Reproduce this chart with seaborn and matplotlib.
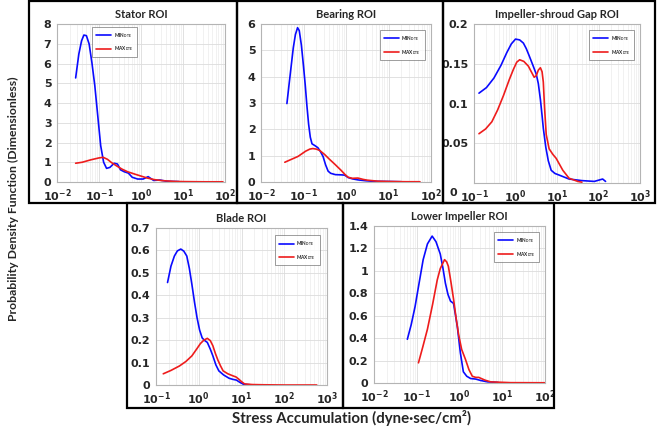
import numpy as np
import pandas as pd
import matplotlib
matplotlib.use("Agg")
import matplotlib.pyplot as plt
import matplotlib.transforms as mtransforms
from matplotlib.patches import Rectangle
from matplotlib.ticker import LogLocator, FuncFormatter, NullFormatter, MultipleLocator
import seaborn as sns

# ---------------- data (log10 of stress accumulation, PDF) ----------------
titles = ["Stator ROI", "Bearing ROI", "Impeller-shroud Gap ROI", "Blade ROI", "Lower Impeller ROI"]
series_names = ["MIN$_{\\mathregular{DTE}}$", "MAX$_{\\mathregular{DTE}}$"]

stator_min_logx = [-1.556, -1.48, -1.415, -1.36, -1.30, -1.235, -1.17, -1.10, -1.03, -0.96, -0.89, -0.82, -0.74, -0.64, -0.56, -0.49, -0.40, -0.30, -0.21, -0.08, 0.05, 0.17, 0.3, 0.45, 0.6, 0.9]
stator_min_y = [5.27, 6.48, 7.15, 7.44, 7.41, 6.99, 6.06, 4.88, 3.36, 1.84, 1.0, 0.69, 0.74, 0.95, 0.91, 0.62, 0.52, 0.45, 0.24, 0.15, 0.15, 0.27, 0.08, 0.1, 0.04, 0.02]
stator_max_logx = [-1.556, -1.4, -1.2, -1.0, -0.9, -0.8, -0.7, -0.57, -0.45, -0.32, -0.15, 0.0, 0.15, 0.32, 0.5, 0.64, 0.8, 1.0, 1.5, 1.95]
stator_max_y = [0.95, 1.0, 1.12, 1.22, 1.25, 1.15, 0.98, 0.8, 0.65, 0.52, 0.4, 0.3, 0.2, 0.12, 0.07, 0.05, 0.03, 0.02, 0.01, 0.01]

bearing_min_logx = [-1.39, -1.34, -1.29, -1.24, -1.19, -1.14, -1.10, -1.05, -1.00, -0.96, -0.92, -0.88, -0.84, -0.80, -0.73, -0.66, -0.60, -0.54, -0.48, -0.42, -0.36, -0.25, -0.1, -0.03, 0.05, 0.15, 0.28, 0.45, 0.6, 1.0, 1.3]
bearing_min_y = [2.98, 3.7, 4.4, 5.1, 5.6, 5.86, 5.75, 5.2, 4.4, 3.7, 2.9, 2.2, 1.7, 1.45, 1.38, 1.3, 1.15, 0.97, 0.65, 0.41, 0.33, 0.28, 0.27, 0.26, 0.17, 0.12, 0.08, 0.05, 0.03, 0.02, 0.01]
bearing_max_logx = [-1.44, -1.3, -1.13, -0.95, -0.85, -0.78, -0.7, -0.62, -0.5, -0.4, -0.26, -0.12, -0.02, 0.05, 0.15, 0.28, 0.4, 0.5, 0.75, 1.0, 1.4, 1.74]
bearing_max_y = [0.75, 0.85, 0.97, 1.17, 1.25, 1.27, 1.25, 1.2, 1.04, 0.88, 0.67, 0.45, 0.28, 0.18, 0.14, 0.15, 0.1, 0.07, 0.03, 0.02, 0.01, 0.01]

gap_min_logx = [-0.88, -0.7, -0.52, -0.35, -0.21, -0.1, 0.0, 0.1, 0.19, 0.26, 0.33, 0.42, 0.5, 0.55, 0.6, 0.64, 0.67, 0.73, 0.79, 0.86, 0.95, 1.05, 1.29, 1.6, 1.9, 2.1, 2.17]
gap_min_y = [0.113, 0.12, 0.132, 0.148, 0.164, 0.175, 0.181, 0.18, 0.176, 0.169, 0.16, 0.148, 0.137, 0.125, 0.105, 0.085, 0.069, 0.045, 0.028, 0.016, 0.012, 0.01, 0.005, 0.003, 0.002, 0.005, 0.002]
gap_max_logx = [-0.88, -0.72, -0.57, -0.43, -0.29, -0.15, -0.05, 0.03, 0.1, 0.2, 0.31, 0.4, 0.45, 0.5, 0.55, 0.6, 0.64, 0.67, 0.7, 0.74, 0.81, 0.9, 0.98, 1.14, 1.29, 1.5, 1.6]
gap_max_y = [0.062, 0.068, 0.077, 0.092, 0.11, 0.13, 0.143, 0.152, 0.155, 0.153, 0.147, 0.138, 0.133, 0.135, 0.142, 0.145, 0.14, 0.127, 0.095, 0.061, 0.043, 0.036, 0.031, 0.016, 0.006, 0.002, 0.001]

blade_min_logx = [-0.73, -0.65, -0.57, -0.5, -0.42, -0.35, -0.28, -0.22, -0.16, -0.1, -0.04, 0.02, 0.08, 0.14, 0.2, 0.27, 0.33, 0.4, 0.47, 0.58, 0.71, 0.8, 0.88, 0.96, 1.05, 1.2]
blade_min_y = [0.457, 0.53, 0.575, 0.598, 0.606, 0.597, 0.575, 0.52, 0.448, 0.37, 0.3, 0.245, 0.21, 0.198, 0.19, 0.16, 0.13, 0.09, 0.063, 0.045, 0.03, 0.025, 0.022, 0.012, 0.003, 0.001]
blade_max_logx = [-0.83, -0.65, -0.45, -0.3, -0.16, -0.05, 0.04, 0.12, 0.2, 0.27, 0.33, 0.39, 0.45, 0.51, 0.57, 0.68, 0.81, 0.87, 0.93, 1.0, 1.07, 1.25, 1.5, 2.0, 2.76]
blade_max_y = [0.05, 0.065, 0.085, 0.105, 0.13, 0.16, 0.185, 0.2, 0.208, 0.198, 0.175, 0.14, 0.11, 0.085, 0.063, 0.05, 0.04, 0.036, 0.027, 0.015, 0.005, 0.002, 0.001, 0.0, 0.0]

lower_min_logx = [-1.22, -1.13, -1.04, -0.95, -0.85, -0.75, -0.64, -0.55, -0.45, -0.39, -0.33, -0.27, -0.21, -0.14, -0.1, -0.05, 0.02, 0.09, 0.17, 0.26, 0.38, 0.5, 0.66, 0.9]
lower_min_y = [0.39, 0.52, 0.68, 0.88, 1.1, 1.24, 1.31, 1.26, 1.15, 1.03, 0.89, 0.79, 0.73, 0.71, 0.62, 0.5, 0.27, 0.1, 0.06, 0.04, 0.035, 0.022, 0.01, 0.005]
lower_max_logx = [-0.96, -0.86, -0.75, -0.63, -0.52, -0.45, -0.4, -0.35, -0.3, -0.26, -0.2, -0.14, -0.08, -0.02, 0.05, 0.14, 0.22, 0.3, 0.38, 0.45, 0.6, 0.73, 1.2, 2.0]
lower_max_y = [0.18, 0.32, 0.48, 0.7, 0.92, 1.02, 1.06, 1.1, 1.08, 1.04, 0.9, 0.75, 0.58, 0.43, 0.3, 0.21, 0.12, 0.06, 0.05, 0.05, 0.025, 0.01, 0.003, 0.002]

xlims = [(1e-2, 1e2), (1e-2, 1e2), (1e-1, 1e3), (1e-1, 1e3), (1e-2, 1e2)]
ylims = [(0, 8), (0, 6), (0, 0.2), (0, 0.7), (0, 1.4)]
ysteps = [1, 1, 0.05, 0.1, 0.2]

panels = [
    (stator_min_logx, stator_min_y, stator_max_logx, stator_max_y),
    (bearing_min_logx, bearing_min_y, bearing_max_logx, bearing_max_y),
    (gap_min_logx, gap_min_y, gap_max_logx, gap_max_y),
    (blade_min_logx, blade_min_y, blade_max_logx, blade_max_y),
    (lower_min_logx, lower_min_y, lower_max_logx, lower_max_y),
]

# ---------------- style ----------------
sns.set_style("white")
plt.rcParams["font.family"] = ["Lato", "DejaVu Sans"]
plt.rcParams["font.weight"] = "bold"
plt.rcParams["mathtext.fontset"] = "custom"
plt.rcParams["mathtext.rm"] = "DejaVu Sans:bold"
plt.rcParams["mathtext.it"] = "DejaVu Sans:bold"
plt.rcParams["mathtext.bf"] = "DejaVu Sans:bold"

W, H = 657, 429
fig = plt.figure(figsize=(W / 100, H / 100), dpi=100)

# axes boxes in pixels: (left, top, right, bottom)
ax_px = [(57, 24, 225, 182), (261, 24, 431, 182), (474, 24, 640, 183),
         (156, 228, 327, 385), (374, 226, 545, 383)]
legend_anchor = [("upper left", (0.196, 0.995)), ("upper right", (0.976, 0.975)),
                 ("upper right", (0.976, 0.975)), ("upper right", (0.97, 0.968)),
                 ("upper right", (0.977, 0.975))]
palette = {series_names[0]: "#0a0aff", series_names[1]: "#ee1c1c"}

def frac_rect(l, t, r, b):
    return [l / W, 1 - b / H, (r - l) / W, (b - t) / H]

axes = []
for i, (mx, my, Mx, My) in enumerate(panels):
    ax = fig.add_axes(frac_rect(*ax_px[i]))
    axes.append(ax)
    df = pd.DataFrame({
        "sa": np.power(10.0, np.array(mx + Mx)),
        "pdf": my + My,
        "series": [series_names[0]] * len(mx) + [series_names[1]] * len(Mx),
    })
    sns.lineplot(data=df, x="sa", y="pdf", hue="series", palette=palette,
                 estimator=None, sort=False, lw=1.2, ax=ax)
    ax.set_xscale("log")
    ax.set_xlim(*xlims[i])
    ax.set_ylim(*ylims[i])
    ax.xaxis.set_major_locator(LogLocator(base=10, numticks=10))
    ax.xaxis.set_minor_locator(LogLocator(base=10, subs=np.arange(2, 10), numticks=20))
    ax.xaxis.set_minor_formatter(NullFormatter())
    ax.xaxis.set_major_formatter(FuncFormatter(lambda v, p: "$10^{%d}$" % int(round(np.log10(v)))))
    ax.yaxis.set_major_locator(MultipleLocator(ysteps[i]))
    ax.yaxis.set_major_formatter(FuncFormatter(lambda v, p: "%g" % round(v, 3)))
    ax.grid(True, which="major", color="#dcdcdc", lw=0.6)
    ax.grid(True, which="minor", axis="x", color="#ececec", lw=0.5)
    ax.tick_params(axis="both", which="both", length=0, labelsize=8, pad=4)
    for s in ax.spines.values():
        s.set_color("#b4b4b4")
        s.set_linewidth(0.8)
    ax.set_xlabel("")
    ax.set_ylabel("")
    ax.set_title(titles[i], fontsize=8, fontweight="bold", pad=4)
    loc, anchor = legend_anchor[i]
    ax.legend(loc=loc, bbox_to_anchor=anchor, fontsize=3.4, frameon=True,
              fancybox=False, edgecolor="#555555", handlelength=3.2,
              borderpad=0.8, labelspacing=1.0, handletextpad=0.5)
    ax.get_legend().get_frame().set_linewidth(0.5)

# y tick label fonts (applied after draw) and lower zero label of the gap panel
fig.canvas.draw()
for ax in axes:
    for lab in ax.get_yticklabels():
        lab.set_fontfamily("DejaVu Sans")
        lab.set_fontweight("bold")
for lab in axes[2].get_yticklabels():
    if lab.get_text() == "0":
        lab.set_transform(lab.get_transform() +
                          mtransforms.ScaledTranslation(-11 / 100, -9 / 100, fig.dpi_scale_trans))

# panel frames
frames = [(29, 1, 237, 203), (237, 1, 443, 203), (443, 1, 655, 203),
          (127, 203, 343, 408), (343, 203, 554, 408)]
for (l, t, r, b) in frames:
    fig.add_artist(Rectangle((l / W, 1 - b / H), (r - l) / W, (b - t) / H,
                             transform=fig.transFigure, fill=False, ec="black", lw=1.6))

fig.text(13 / W, 1 - 199 / H, "Probability Density Function (Dimensionless)",
         rotation=90, ha="center", va="center", fontsize=8.8, fontweight="bold")
fig.text(352 / W, 1 - 418 / H, "Stress Accumulation (dyne·sec/cm²)",
         ha="center", va="center", fontsize=10.8, fontweight="bold")

fig.savefig("out.png", dpi=100)
